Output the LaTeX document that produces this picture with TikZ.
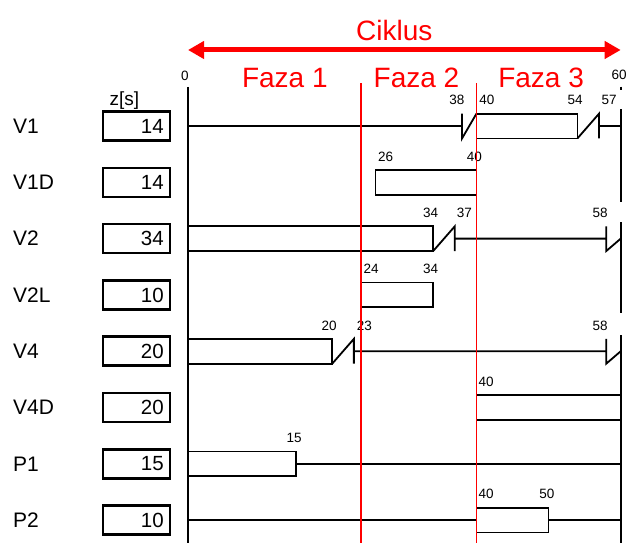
\documentclass[tikz,border=0pt]{standalone}
\usepackage{fontspec}
\setsansfont{Liberation Sans}
\usetikzlibrary{arrows.meta}

\tikzset{
    num/.style={font=\fontsize{13.5}{15}\selectfont, inner sep=0pt},
    faza/.style={font=\fontsize{28}{32}\selectfont, text=red, inner sep=0pt, anchor=base},
    rowlbl/.style={font=\fontsize{21}{24}\selectfont, inner sep=0pt, anchor=west},
    zval/.style={font=\fontsize{20.5}{24}\selectfont, inner sep=0pt, anchor=east},
    zbox/.style={line width=2.6pt},
    bar/.style={line width=1.8pt},
    phase/.style={red, line width=1.8pt},
    bigtip/.tip={Triangle[length=16pt,width=17pt]},
}

\begin{document}
\begin{tikzpicture}[x=7.21pt,y=56.3pt]
    \sffamily
    \useasboundingbox (-26.07,-0.392) rectangle (61.29,9.238);

    % ciklus and phases
    \coordinate (c0) at (0,8.35);
    \coordinate (c60) at (60,8.35);
    \draw[red, line width=5pt, bigtip-bigtip] (c0) -- (c60);
    \node[faza] (ciklus) at (28.6,8.51) {Ciklus};
    \foreach \x/\n in {13.43/1, 31.69/2, 48.96/3}
        \node[faza] (faza\n) at (\x,7.69) {Faza \n};

    % time axis
    \node[num] (t0) at (-0.42,7.887) {0};
    \node[num] (t60) at (59.78,7.905) {60};
    \draw[bar] (0,7.696) -- (0,-0.4);
    \draw[bar] (60,7.70) -- (60,7.64);
    \draw[bar] (60,7.302) -- (60,5.65) (60,5.295) -- (60,3.678) (60,3.288) -- (60,-0.4);

    % signals and durations
    \foreach \y/\name/\z in {7/V1/14, 6/V1D/14, 5/V2/34, 4/V2L/10, 3/V4/20, 2/V4D/20, 1/P1/15, 0/P2/10} {
        \node[rowlbl] (n\name) at (-24.27,\y) {\name};
        \draw[zbox] (-11.79,\y-0.257) rectangle (-2.50,\y+0.257);
        \node[zval] (z\name) at (-3.33,\y) {\z};
    }
    \node[inner sep=0pt, font=\fontsize{19}{22}\selectfont] (zs) at (-8.81,7.444) {z[s]};

    % V1
    \draw[bar] (0,7) -- (38,7) (38,7.22) -- (38,6.78) -- (40,7.22);
    \draw[bar] (40,6.78) rectangle (54,7.22);
    \draw[bar] (54,6.78) -- (57,7.22) -- (57,6.78) (57,7) -- (60,7);
    % V1D
    \draw[bar] (26,5.78) rectangle (40,6.22);
    % V2
    \draw[bar] (0,4.78) rectangle (34,5.22);
    \draw[bar] (34,4.78) -- (37,5.22) -- (37,4.78) (37,5) -- (58,5) (58,5.22) -- (58,4.78) -- (60,5);
    % V2L
    \draw[bar] (24,3.78) rectangle (34,4.22);
    % V4
    \draw[bar] (0,2.78) rectangle (20,3.22);
    \draw[bar] (20,2.78) -- (23,3.22) -- (23,2.78) (23,3) -- (58,3) (58,3.22) -- (58,2.78) -- (60,3);
    % V4D
    \draw[bar] (40,1.78) rectangle (60,2.22);
    % P1
    \draw[bar] (0,0.78) rectangle (15,1.22);
    \draw[bar] (15,1) -- (60,1);
    % P2
    \draw[bar] (0,0) -- (40,0) (50,0) -- (60,0);
    \draw[bar] (40,-0.22) rectangle (50,0.22);

    \foreach \x/\y/\t in {37.27/7/38, 41.43/7/40, 53.68/7/54, 58.39/7/57,
                          27.42/6/26, 39.71/6/40,
                          33.66/5/34, 38.32/5/37, 57.14/5/58,
                          25.38/4/24, 33.66/4/34,
                          19.56/3/20, 24.45/3/23, 57.14/3/58,
                          41.33/2/40, 14.70/1/15, 41.33/0/40, 49.75/0/50}
        \node[num] (t\y-\t) at (\x,\y+0.46) {\t};

    % phase borders
    \draw[phase] (24,7.757) -- (24,-0.4);
    \draw[phase] (40,7.757) -- (40,-0.4);

\end{tikzpicture}
\end{document}
